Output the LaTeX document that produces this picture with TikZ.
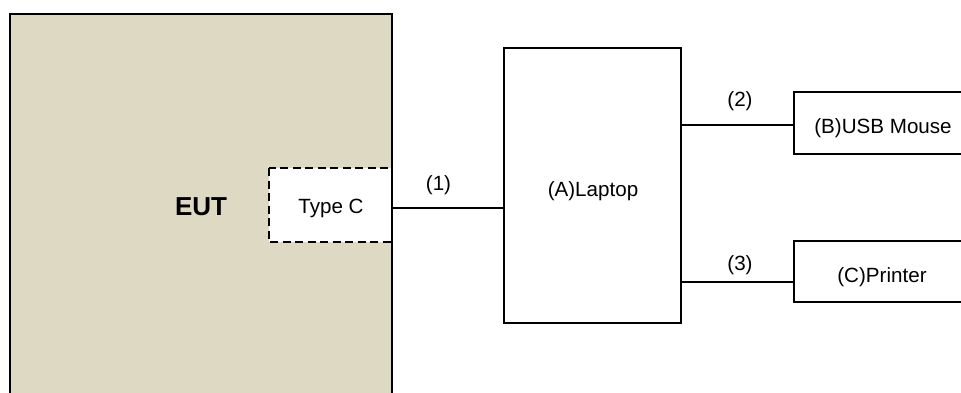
\documentclass[tikz,border=0pt]{standalone}
\usepackage{fontspec}
\setmainfont{Liberation Sans}
\definecolor{euttan}{HTML}{DDD9C3}
\begin{document}
\begin{tikzpicture}[x=1pt,y=-1pt,
  box/.style={draw=black,line width=2pt,fill=white},
  wire/.style={draw=black,line width=2pt},
  lbl/.style={font=\fontsize{20.6}{24}\selectfont,inner sep=0pt},
  portbox/.style={draw=black,line width=2pt,dash pattern=on 8pt off 4.5pt,fill=white}]
\useasboundingbox (0,0) rectangle (961,392);
\clip (0,0) rectangle (961,392);
% equipment under test, running off the bottom edge
\draw[line width=2pt,fill=euttan] (9.5,13.5) rectangle (392,420);
\node[lbl,font=\fontsize{26}{30}\selectfont\bfseries] (eut) at (201,207) {EUT};
% Type C port
\path[portbox] (269,168) rectangle (392,242);
\draw[line width=2pt] (392,160) -- (392,250);
\node[lbl] (port) at (331,208) {Type C};
\coordinate (portR) at (392,208);
% laptop
\draw[box] (504,48) rectangle (681,323);
\node[lbl] (laptop) at (593,191) {(A)Laptop};
\coordinate (lapL) at (504,208);
\coordinate (lapR2) at (681,124.5);
\coordinate (lapR3) at (681,281.5);
% peripherals, running off the right edge
\draw[box] (794,92) rectangle (990,154);
\node[lbl] (mouse) at (883,128.5) {(B)USB Mouse};
\coordinate (mouseL) at (794,124.5);
\draw[box] (794,241) rectangle (990,302);
\node[lbl] (printer) at (882,277.5) {(C)Printer};
\coordinate (printerL) at (794,281.5);
% cables
\draw[wire] (portR) -- (lapL);
\draw[wire] (lapR2) -- (mouseL);
\draw[wire] (lapR3) -- (printerL);
\node[lbl] (c1) at (438.5,185) {(1)};
\node[lbl] (c2) at (740,101) {(2)};
\node[lbl] (c3) at (740,265) {(3)};
\end{tikzpicture}
\end{document}
